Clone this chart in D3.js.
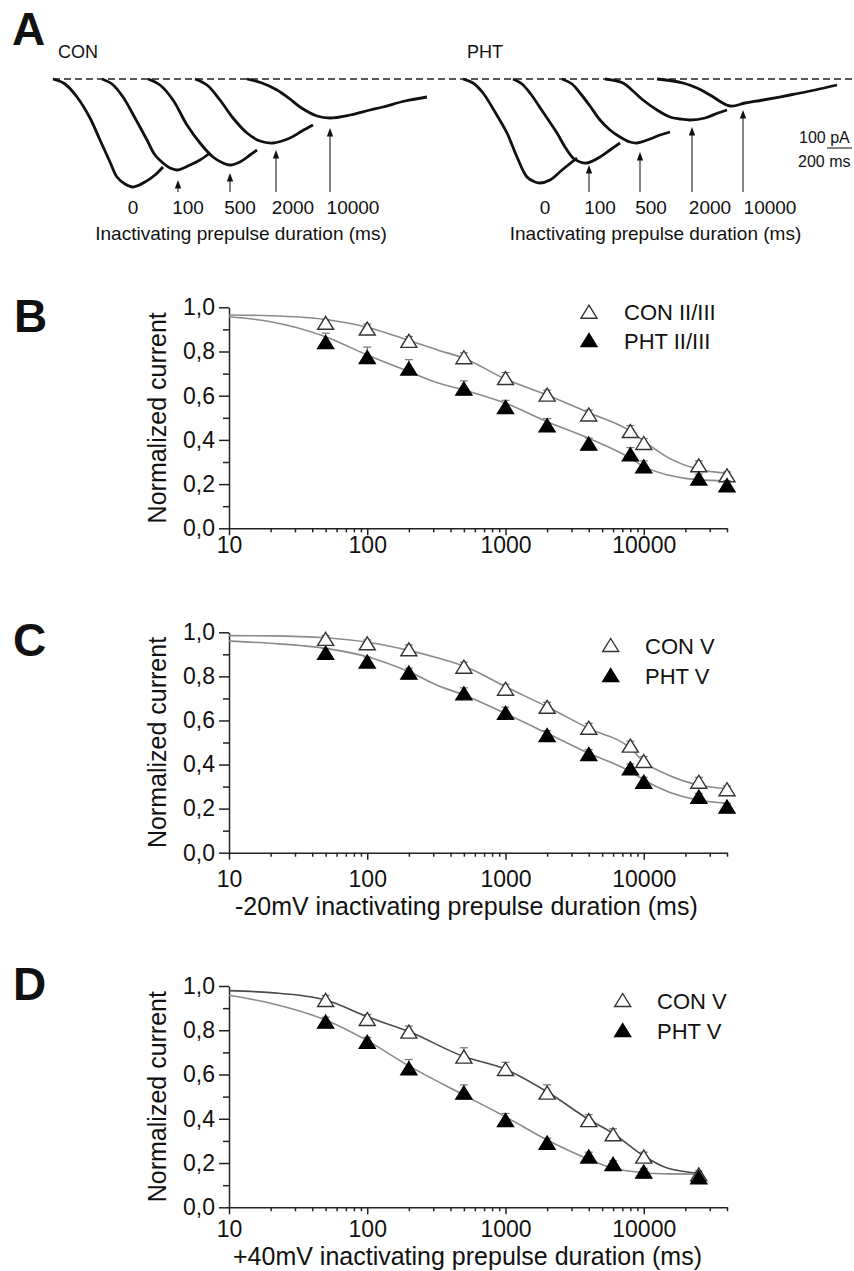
<!DOCTYPE html>
<html>
<head>
<meta charset="utf-8">
<script src="https://cdn.jsdelivr.net/npm/d3@7"></script>
<style>
    body { margin: 0; background: #fff; }
    svg text { font-family: "Liberation Sans", Arial, sans-serif; fill: #111; }
</style>
</head>
<body>
<div id="fig"></div>
<script>
// ---------- panel A : current traces (time in ms, current in pA) ----------
var traceLabels = ["0", "100", "500", "2000", "10000"];

var conTraces = [
    [[0, 0], [96, -20], [192, -72], [296, -156], [376, -244], [456, -332], [512, -392], [576, -420], [640, -432], [736, -412], [816, -384], [880, -352]],
    [[392, 0], [472, -20], [560, -72], [656, -156], [752, -244], [816, -304], [880, -336], [936, -356], [992, -364], [1096, -344], [1176, -324], [1256, -296]],
    [[760, 0], [856, -24], [960, -84], [1072, -184], [1176, -256], [1280, -312], [1360, -336], [1416, -344], [1496, -332], [1576, -304], [1632, -284]],
    [[1136, 0], [1232, -24], [1336, -84], [1440, -156], [1552, -216], [1656, -248], [1760, -256], [1896, -236], [1992, -208], [2080, -184]],
    [[1552, 0], [1672, -16], [1792, -44], [1896, -80], [1976, -112], [2112, -148], [2216, -156], [2376, -144], [2536, -124], [2640, -112], [2816, -88], [2992, -72]]
];
var phtTraces = [
    [[0, 0], [80, -16], [160, -56], [256, -132], [352, -216], [432, -312], [512, -392], [576, -412], [616, -416], [696, -404], [792, -364], [912, -316]],
    [[400, 0], [472, -20], [536, -56], [640, -132], [752, -216], [816, -272], [880, -316], [936, -332], [992, -336], [1096, -312], [1176, -284], [1256, -256]],
    [[792, 0], [872, -20], [936, -56], [1016, -108], [1096, -164], [1176, -204], [1256, -232], [1336, -252], [1392, -256], [1496, -240], [1576, -224], [1656, -212]],
    [[1136, 0], [1280, -16], [1360, -48], [1440, -84], [1552, -124], [1656, -152], [1736, -160], [1816, -164], [1936, -156], [2040, -136], [2112, -124]],
    [[1552, 0], [1760, -16], [1872, -36], [1976, -64], [2136, -108], [2256, -96], [2400, -84], [2616, -64], [2816, -44], [2992, -24]]
];
// where labels and arrows sit (ms / pA)
var conLabelT = [640, 1080, 1496, 1920, 2400];
var conArrowT = [1000, 1416, 1784, 2216];
var conArrowTip = [-404, -376, -284, -196];
var phtLabelT = [656, 1096, 1504, 1976, 2456];
var phtArrowT = [1008, 1416, 1832, 2240];
var phtArrowTip = [-344, -292, -192, -124];
var arrowTail = -452;
var scaleBarMs = 200, scaleBarPa = 100;

// ---------- panels B-D : normalized current vs prepulse duration ----------
var durBC = [50, 100, 200, 500, 1000, 2000, 4000, 8000, 10000, 25000, 40000];
var conB = [0.93, 0.904, 0.848, 0.774, 0.68, 0.605, 0.515, 0.44, 0.386, 0.285, 0.24];
var phtB = [0.843, 0.775, 0.723, 0.632, 0.549, 0.466, 0.383, 0.335, 0.28, 0.225, 0.195];
var errConB = [0.015, 0.02, 0.02, 0.02, 0.025, 0.02, 0.02, 0.025, 0.02, 0.02, 0.015];
var errPhtB = [0.04, 0.045, 0.04, 0.035, 0.03, 0.03, 0.025, 0.03, 0.025, 0.02, 0.02];

var conC = [0.97, 0.95, 0.923, 0.844, 0.744, 0.662, 0.567, 0.486, 0.416, 0.322, 0.288];
var phtC = [0.907, 0.867, 0.817, 0.723, 0.635, 0.534, 0.448, 0.383, 0.322, 0.254, 0.209];
var errConC = [0.015, 0.015, 0.02, 0.02, 0.02, 0.02, 0.02, 0.02, 0.02, 0.02, 0.015];
var errPhtC = [0.02, 0.02, 0.02, 0.025, 0.025, 0.02, 0.02, 0.02, 0.02, 0.015, 0.015];

var durD = [50, 100, 200, 500, 1000, 2000, 4000, 6000, 10000, 25000];
var conD = [0.937, 0.851, 0.794, 0.681, 0.625, 0.518, 0.394, 0.33, 0.229, 0.149];
var phtD = [0.839, 0.748, 0.628, 0.518, 0.394, 0.292, 0.229, 0.196, 0.161, 0.136];
var errConD = [0.02, 0.02, 0.025, 0.04, 0.03, 0.035, 0.025, 0.025, 0.02, 0.015];
var errPhtD = [0.02, 0.02, 0.04, 0.035, 0.03, 0.02, 0.02, 0.015, 0.015, 0.01];

// fitted curves
var fitXBC = [10, 20, 50, 100, 200, 330, 500, 1000, 2000, 4000, 8000, 10000, 15000, 25000, 40000];
var fitConB = [0.965, 0.962, 0.945, 0.91, 0.85, 0.805, 0.77, 0.675, 0.603, 0.523, 0.44, 0.395, 0.32, 0.267, 0.249];
var fitPhtB = [0.957, 0.935, 0.867, 0.784, 0.709, 0.656, 0.626, 0.566, 0.482, 0.407, 0.317, 0.279, 0.241, 0.219, 0.215];
var fitConC = [0.985, 0.984, 0.975, 0.955, 0.918, 0.882, 0.847, 0.753, 0.662, 0.564, 0.474, 0.413, 0.353, 0.307, 0.29];
var fitPhtC = [0.96, 0.95, 0.927, 0.889, 0.821, 0.756, 0.716, 0.632, 0.542, 0.451, 0.368, 0.33, 0.277, 0.239, 0.224];
var fitXD = [10, 20, 50, 100, 200, 500, 1000, 2000, 4000, 6000, 10000, 15000, 25000];
var fitConD = [0.979, 0.97, 0.937, 0.861, 0.794, 0.681, 0.624, 0.522, 0.397, 0.334, 0.232, 0.176, 0.154];
var fitPhtD = [0.958, 0.922, 0.846, 0.753, 0.639, 0.507, 0.409, 0.304, 0.217, 0.176, 0.156, 0.151, 0.15];

var xMajor = [10, 100, 1000, 10000];
var yMajor = [0, 0.2, 0.4, 0.6, 0.8, 1.0];
var yMinor = [0.1, 0.3, 0.5, 0.7, 0.9];

var width = 854, height = 1271;

var svg = d3.select("#fig").append("svg")
    .attr("width", width)
    .attr("height", height);

svg.append("rect").attr("width", width).attr("height", height).attr("fill", "#fff");

// panel letters
var letters = [["A", 12, 45], ["B", 14, 332], ["C", 13, 656], ["D", 13, 1000]];
svg.selectAll(".letter")
    .data(letters)
    .enter()
    .append("text")
    .attr("x", d => d[1])
    .attr("y", d => d[2])
    .style("font-size", "46px")
    .style("font-weight", "bold")
    .text(d => d[0]);

// ================= panel A =================
var yA = d3.scaleLinear().domain([-500, 0]).range([204, 79]);
var xCon = d3.scaleLinear().domain([0, 3000]).range([53, 428]);
var xPht = d3.scaleLinear().domain([0, 3000]).range([463, 838]);

svg.append("line")
    .attr("x1", xCon(0))
    .attr("x2", width - 2)
    .attr("y1", yA(0))
    .attr("y2", yA(0))
    .attr("stroke", "#222")
    .attr("stroke-width", 1.6)
    .attr("stroke-dasharray", "7,4");

function drawTraces(x, traces, labelT, arrowT, arrowTip, name, nameX) {
    var g = svg.append("g");
    var line = d3.line()
        .x(d => x(d[0]))
        .y(d => yA(d[1]))
        .curve(d3.curveCatmullRom);

    g.selectAll(".trace")
        .data(traces)
        .enter()
        .append("path")
        .attr("d", line)
        .attr("fill", "none")
        .attr("stroke", "#111")
        .attr("stroke-width", 2.8)
        .attr("stroke-linejoin", "round");

    arrowT.forEach((t, i) => {
        g.append("line")
            .attr("x1", x(t)).attr("x2", x(t))
            .attr("y1", yA(arrowTail)).attr("y2", yA(arrowTip[i]) + 6)
            .attr("stroke", "#333")
            .attr("stroke-width", 1.2);
        g.append("path")
            .attr("d", "M0,0L3.2,8.5L-3.2,8.5Z")
            .attr("transform", "translate(" + x(t) + "," + yA(arrowTip[i]) + ")")
            .attr("fill", "#111");
    });

    g.selectAll(".lab")
        .data(traceLabels)
        .enter()
        .append("text")
        .attr("x", (d, i) => x(labelT[i]))
        .attr("y", 214)
        .attr("text-anchor", "middle")
        .style("font-size", "19px")
        .text(d => d);

    g.append("text")
        .attr("x", (x(labelT[0]) + x(labelT[4])) / 2 - 2)
        .attr("y", 240)
        .attr("text-anchor", "middle")
        .style("font-size", "19px")
        .text("Inactivating prepulse duration (ms)");

    g.append("text")
        .attr("x", nameX)
        .attr("y", 58)
        .style("font-size", "18px")
        .text(name);
}

drawTraces(xCon, conTraces, conLabelT, conArrowT, conArrowTip, "CON", 58);
drawTraces(xPht, phtTraces, phtLabelT, phtArrowT, phtArrowTip, "PHT", 467);

// scale bar
svg.append("line")
    .attr("x1", xPht(2912))
    .attr("x2", xPht(2912 + scaleBarMs))
    .attr("y1", 148).attr("y2", 148)
    .attr("stroke", "#333")
    .attr("stroke-width", 1.2);
svg.append("text").attr("x", 799).attr("y", 143).style("font-size", "16px").text(scaleBarPa + " pA");
svg.append("text").attr("x", 798).attr("y", 167).style("font-size", "16px").text(scaleBarMs + " ms");

// ================= panels B, C, D =================
var x = d3.scaleLog().domain([10, 40000]).range([229, 727]);
var xMinor = [];
[10, 100, 1000, 10000].forEach(dec => {
    for (var k = 2; k <= 9; k++) {
        if (dec * k <= 40000) xMinor.push(dec * k);
    }
});

var panels = [
    {
        top: 307.3, bottom: 528.3, dur: durBC, con: conB, pht: phtB, errCon: errConB, errPht: errPhtB,
        fitX: fitXBC, fitCon: fitConB, fitPht: fitPhtB, names: ["CON II/III", "PHT II/III"],
        tickPad: 1.5, legX: 589, legY: 311.7, legGap: 28.3, legTextX: 624,
        conLine: "#8a8a8a", phtLine: "#8a8a8a", xTitle: null
    },
    {
        top: 632.3, bottom: 852.7, dur: durBC, con: conC, pht: phtC, errCon: errConC, errPht: errPhtC,
        fitX: fitXBC, fitCon: fitConC, fitPht: fitPhtC, names: ["CON V", "PHT V"],
        tickPad: 11, legX: 610.7, legY: 645, legGap: 30, legTextX: 645,
        conLine: "#8a8a8a", phtLine: "#8a8a8a",
        xTitle: "-20mV inactivating prepulse duration (ms)", xTitleX: 235, xTitleY: 915, xTitleSize: 25
    },
    {
        top: 986, bottom: 1207.3, dur: durD, con: conD, pht: phtD, errCon: errConD, errPht: errPhtD,
        fitX: fitXD, fitCon: fitConD, fitPht: fitPhtD, names: ["CON V", "PHT V"],
        tickPad: 6, legX: 622.7, legY: 1000, legGap: 30, legTextX: 657,
        conLine: "#4a4a4a", phtLine: "#8a8a8a",
        xTitle: "+40mV inactivating prepulse duration (ms)", xTitleX: 233, xTitleY: 1265, xTitleSize: 25
    }
];

var tri = "M0,-6.5L8,6.5L-8,6.5Z";
var fmt = d => d3.format(".1f")(d).replace(".", ",");

panels.forEach(p => {
    var y = d3.scaleLinear().domain([0, 1]).range([p.bottom, p.top]);
    var g = svg.append("g");

    // axes
    var gx = g.append("g")
        .attr("transform", "translate(0," + p.bottom + ")")
        .call(d3.axisBottom(x).tickValues(xMinor).tickSize(4).tickSizeOuter(0).tickFormat(""));
    gx.append("g")
        .call(d3.axisBottom(x).tickValues(xMajor).tickSize(7).tickSizeOuter(0).tickPadding(p.tickPad)
            .tickFormat(d3.format("d")))
        .select(".domain").remove();

    var gy = g.append("g")
        .attr("transform", "translate(" + x(10) + ",0)")
        .call(d3.axisLeft(y).tickValues(yMinor).tickSize(6).tickSizeOuter(0).tickFormat(""));
    gy.append("g")
        .call(d3.axisLeft(y).tickValues(yMajor).tickSize(10).tickSizeOuter(0).tickPadding(4).tickFormat(fmt))
        .select(".domain").remove();

    g.selectAll(".domain, .tick line").attr("stroke", "#222").attr("stroke-width", 1.5);
    g.selectAll(".tick text").style("font-size", "23px").attr("fill", "#111");

    g.append("text")
        .attr("transform", "translate(166," + ((p.top + p.bottom) / 2) + ") rotate(-90)")
        .attr("text-anchor", "middle")
        .style("font-size", "25px")
        .text("Normalized current");

    if (p.xTitle) {
        g.append("text")
            .attr("x", p.xTitleX)
            .attr("y", p.xTitleY)
            .style("font-size", p.xTitleSize + "px")
            .text(p.xTitle);
    }

    // fitted curves
    var fit = d3.line()
        .x(d => x(d[0]))
        .y(d => y(d[1]))
        .curve(d3.curveMonotoneX);
    g.append("path")
        .attr("d", fit(p.fitX.map((v, i) => [v, p.fitCon[i]])))
        .attr("fill", "none").attr("stroke", p.conLine).attr("stroke-width", 1.6);
    g.append("path")
        .attr("d", fit(p.fitX.map((v, i) => [v, p.fitPht[i]])))
        .attr("fill", "none").attr("stroke", p.phtLine).attr("stroke-width", 1.6);

    // error bars + markers
    [[p.con, p.errCon, "#fff", "#333"], [p.pht, p.errPht, "#000", "#000"]].forEach(s => {
        var vals = s[0], errs = s[1];
        var eg = g.append("g").attr("stroke", "#777").attr("stroke-width", 1.2);
        p.dur.forEach((t, i) => {
            eg.append("line")
                .attr("x1", x(t)).attr("x2", x(t))
                .attr("y1", y(vals[i])).attr("y2", y(vals[i] + errs[i]));
            eg.append("line")
                .attr("x1", x(t) - 4).attr("x2", x(t) + 4)
                .attr("y1", y(vals[i] + errs[i])).attr("y2", y(vals[i] + errs[i]));
        });
        g.selectAll(null)
            .data(vals)
            .enter()
            .append("path")
            .attr("d", tri)
            .attr("transform", (d, i) => "translate(" + x(p.dur[i]) + "," + y(d) + ")")
            .attr("fill", s[2])
            .attr("stroke", s[3])
            .attr("stroke-width", 1.4);
    });

    // legend
    p.names.forEach((name, i) => {
        g.append("path")
            .attr("d", tri)
            .attr("transform", "translate(" + p.legX + "," + (p.legY + i * p.legGap) + ")")
            .attr("fill", i == 0 ? "#fff" : "#000")
            .attr("stroke", i == 0 ? "#333" : "#000")
            .attr("stroke-width", 1.4);
        g.append("text")
            .attr("x", p.legTextX)
            .attr("y", p.legY + i * p.legGap + 8.5)
            .style("font-size", "22px")
            .text(name);
    });
});
</script>
</body>
</html>
